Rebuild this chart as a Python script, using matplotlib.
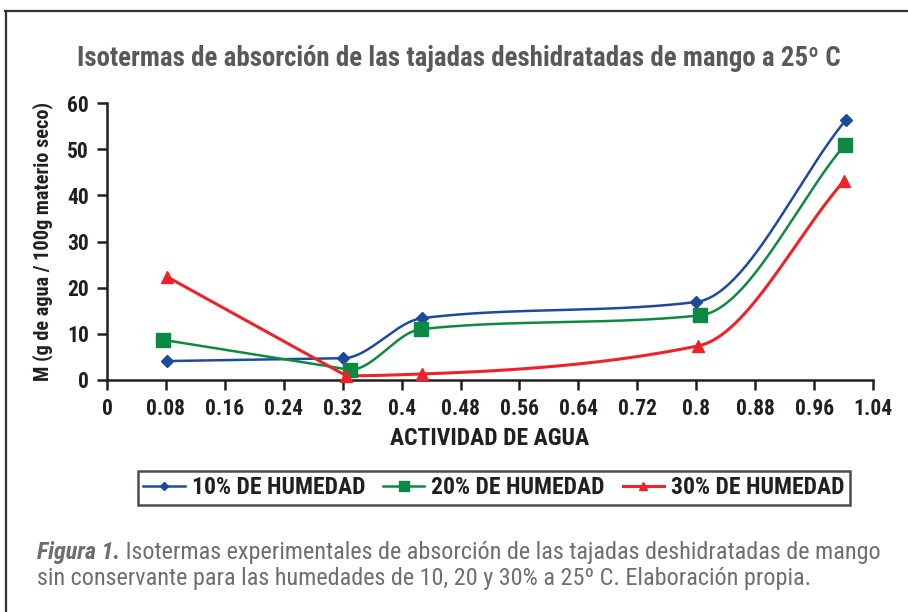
import numpy as np
import matplotlib
matplotlib.use("Agg")
import matplotlib.pyplot as plt
from matplotlib import font_manager as fm
from matplotlib.lines import Line2D

# ---------------- data ----------------
aw_10 = [0.081, 0.321, 0.428, 0.800, 1.003]
m_10 = [4.1, 4.7, 13.4, 16.9, 56.3]
aw_20 = [0.076, 0.330, 0.426, 0.805, 1.002]
m_20 = [8.7, 2.2, 11.0, 14.0, 51.0]
aw_30 = [0.081, 0.325, 0.427, 0.803, 1.001]
m_30 = [22.4, 0.9, 1.3, 7.4, 43.2]
series_labels = ["10% DE HUMEDAD", "20% DE HUMEDAD", "30% DE HUMEDAD"]
x_ticks = [0, 0.08, 0.16, 0.24, 0.32, 0.4, 0.48, 0.56, 0.64, 0.72, 0.8, 0.88, 0.96, 1.04]
x_ticklabels = ["0", "0.08", "0.16", "0.24", "0.32", "0.4", "0.48", "0.56", "0.64",
                "0.72", "0.8", "0.88", "0.96", "1.04"]
y_ticks = [0, 10, 20, 30, 40, 50, 60]
title = "Isotermas de absorción de las tajadas deshidratadas de mango a 25º C"
xlabel = "ACTIVIDAD DE AGUA"
ylabel = "M (g de agua / 100g materio seco)"
caption_bold = "Figura 1."
caption_line1 = " Isotermas experimentales de absorción de las tajadas deshidratadas de mango"
caption_line2 = "sin conservante para las humedades de 10, 20 y 30% a 25º C. Elaboración propia."

# ---------------- font selection ----------------
names = {f.name for f in fm.fontManager.ttflist}
stretch = "normal"
if "Roboto Condensed" in names:
    fam = "Roboto Condensed"
elif "Liberation Sans Narrow" in names:
    fam = "Liberation Sans Narrow"
elif any(f.name == "DejaVu Sans" and f.stretch == "condensed" for f in fm.fontManager.ttflist):
    fam = "DejaVu Sans"
    stretch = "condensed"
else:
    fam = "Roboto"
plt.rcParams["font.family"] = [fam, "DejaVu Sans"]
plt.rcParams["font.stretch"] = stretch


def pchip_curve(x, y, n=200):
    x = np.asarray(x, float)
    y = np.asarray(y, float)
    h = np.diff(x)
    d = np.diff(y) / h
    m = np.zeros_like(y)
    for k in range(1, len(x) - 1):
        if d[k - 1] * d[k] <= 0:
            m[k] = 0.0
        else:
            w1 = 2 * h[k] + h[k - 1]
            w2 = h[k] + 2 * h[k - 1]
            m[k] = (w1 + w2) / (w1 / d[k - 1] + w2 / d[k])
    m[0] = d[0]
    m[-1] = d[-1]
    xs_all, ys_all = [x[0]], [y[0]]
    for k in range(len(x) - 1):
        if k == 0:
            xs_all.append(x[1])
            ys_all.append(y[1])
            continue
        t = np.linspace(0, 1, n)[1:]
        h00 = 2 * t**3 - 3 * t**2 + 1
        h10 = t**3 - 2 * t**2 + t
        h01 = -2 * t**3 + 3 * t**2
        h11 = t**3 - t**2
        xs = x[k] + t * h[k]
        ys = h00 * y[k] + h10 * h[k] * m[k] + h01 * y[k + 1] + h11 * h[k] * m[k + 1]
        xs_all.extend(xs)
        ys_all.extend(ys)
    return np.array(xs_all), np.array(ys_all)


W, H = 908, 612
fig = plt.figure(figsize=(W / 100, H / 100), dpi=100)
fig.patch.set_facecolor("white")

# frame lines (top and left)
frame_col = "#333333"
fig.add_artist(Line2D([5 / W, 1.0], [1 - 10.5 / H, 1 - 10.5 / H], color=frame_col, lw=1.6))
fig.add_artist(Line2D([5.5 / W, 5.5 / W], [1 - 10.5 / H, 0.0], color=frame_col, lw=1.6))

ax = fig.add_axes([107 / W, 1 - 380 / H, (873 - 107) / W, (380 - 103) / H])

colors = ["#1f4a9c", "#0c8a43", "#ee2229"]
markers = ["D", "s", "^"]
msizes = [6.5, 10, 8.5]
data = [(aw_10, m_10), (aw_20, m_20), (aw_30, m_30)]
handles = []
for (xx, yy), c, mk, ms, lab in zip(data, colors, markers, msizes, series_labels):
    cx, cy = pchip_curve(xx, yy)
    lw = 2.2 if c == colors[2] else 1.8
    ax.plot(cx, cy, color=c, lw=lw, zorder=2, clip_on=False)
    ax.plot(xx, yy, ls="none", marker=mk, ms=ms, color=c, mec=c, zorder=3, clip_on=False)
    handles.append(Line2D([], [], color=c, lw=lw, marker=mk, ms=ms * 0.7, mec=c, label=lab))

ax.set_xlim(0, 1.04)
ax.set_ylim(0, 60)
ax.set_xticks(x_ticks)
ax.set_xticklabels(x_ticklabels)
ax.set_yticks(y_ticks)
for s in ["top", "right"]:
    ax.spines[s].set_visible(False)
for s in ["left", "bottom"]:
    ax.spines[s].set_linewidth(1.8)
    ax.spines[s].set_color("#231f20")
ax.tick_params(axis="both", direction="out", length=7, width=1.8, color="#231f20",
               labelsize=15.5, labelcolor="#231f20", pad=6)
for lab in ax.get_xticklabels() + ax.get_yticklabels():
    lab.set_fontweight("bold")

ax.set_xlabel(xlabel, fontsize=17, fontweight="bold", color="#231f20", labelpad=5)
ax.set_ylabel(ylabel, fontsize=14.6, fontweight="bold", color="#231f20", labelpad=10)

fig.text(459 / W, 1 - 58.5 / H, title, ha="center", va="center", fontsize=19.4,
         fontweight="bold", color="#58595b")

leg = fig.legend(handles=handles, loc="center", bbox_to_anchor=(494 / W, 1 - 488 / H),
                 ncol=3, frameon=True, fancybox=False, shadow=False, fontsize=17,
                 handlelength=1.75, handletextpad=0.3, columnspacing=0.75,
                 borderpad=0.25, edgecolor="#231f20")
leg.get_frame().set_linewidth(1.8)
for t in leg.get_texts():
    t.set_fontweight("bold")
    t.set_color("#231f20")

t1 = fig.text(37 / W, 1 - 552 / H, caption_bold, ha="left", va="center", fontsize=17.4,
              fontweight="bold", fontstyle="italic", color="#6d6e71")
ax.annotate(caption_line1, xy=(1, 0.5), xycoords=t1, ha="left", va="center",
            fontsize=17.4, color="#6d6e71")
fig.text(37 / W, 1 - 578 / H, caption_line2, ha="left", va="center", fontsize=17.4,
         color="#6d6e71")

fig.savefig("out.png", dpi=100, facecolor="white")
